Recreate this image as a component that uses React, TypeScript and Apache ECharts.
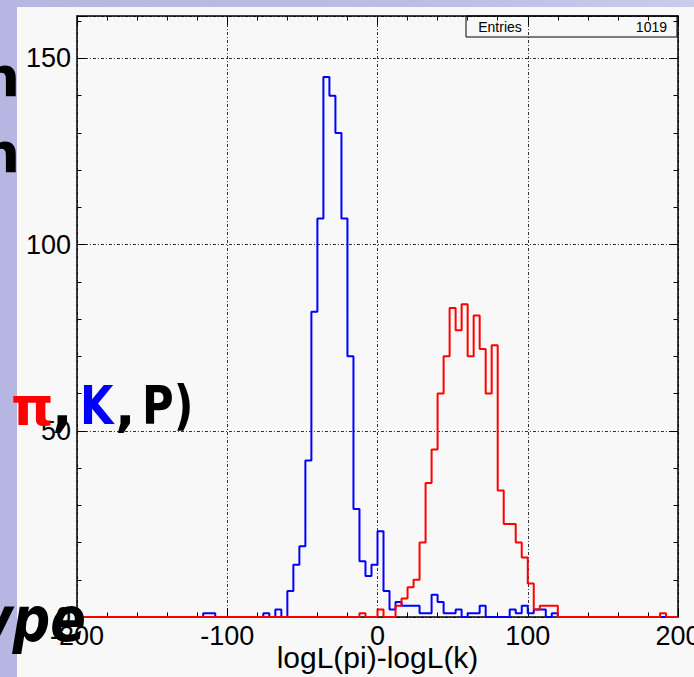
import React, { useEffect, useRef } from "react";
import * as echarts from "echarts";

// Histogram binning (ROOT TH1: 100 bins from -200 to 200)
const BIN_START = -200;
const BIN_WIDTH = 4;

// Kaon (blue) counts per bin
const kaonCounts = [
  0, 0, 0, 0, 0, 0, 0, 0, 0, 0,
  0, 0, 0, 0, 0, 0, 0, 0, 0, 0,
  0, 1, 1, 0, 0, 0, 0, 0, 0, 0,
  0, 1, 0, 2, 0, 7, 14, 19, 42, 82,
  107, 145, 140, 130, 107, 70, 29, 15, 11, 14,
  23, 7, 2, 4, 3, 3, 3, 1, 1, 6,
  4, 1, 1, 2, 0, 1, 1, 3, 0, 0,
  0, 0, 2, 1, 3, 1, 2, 2, 0, 1,
  0, 0, 0, 0, 0, 0, 0, 0, 0, 0,
  0, 0, 0, 0, 0, 0, 0, 0, 0, 0,
];

// Pion (red) counts per bin
const pionCounts = [
  0, 0, 0, 0, 0, 0, 0, 0, 0, 0,
  0, 0, 0, 0, 0, 0, 0, 0, 0, 0,
  0, 0, 0, 0, 0, 0, 0, 0, 0, 0,
  0, 0, 0, 0, 0, 0, 0, 0, 0, 0,
  0, 0, 0, 0, 0, 0, 0, 1, 0, 0,
  2, 0, 0, 3, 5, 8, 10, 20, 36, 45,
  60, 70, 83, 77, 84, 70, 81, 72, 60, 73,
  34, 25, 25, 20, 16, 9, 2, 3, 3, 3,
  0, 0, 0, 0, 0, 0, 0, 0, 0, 0,
  0, 0, 0, 0, 0, 0, 0, 1, 0, 0,
];

const X_MIN = -200;
const X_MAX = 200;
const X_MAJOR = 100;
const Y_MIN = 0;
const Y_MAX = 161.4;
const Y_MAJOR = 50;
const Y_MINOR = 10;
const X_TITLE = "logL(pi)-logL(k)";
const ENTRIES_LABEL = "Entries";
const ENTRIES_VALUE = "1019";

const FONT = "'Liberation Sans', Arial, sans-serif";
const SLIDE_FONT = "'DejaVu Sans', sans-serif";

function toSteps(counts: number[]): number[][] {
  const pts = counts.map((c, i) => [BIN_START + i * BIN_WIDTH, c]);
  pts.push([BIN_START + counts.length * BIN_WIDTH, counts[counts.length - 1]]);
  return pts;
}

const frameLine = { color: "#000", width: 1.5 };
const tickLine = { color: "#000", width: 1 };
const gridLine = { color: "#333", width: 1, type: [3, 2, 1, 2] };

function buildOption(): any {
  const xCommon = {
    type: "value",
    min: X_MIN,
    max: X_MAX,
    interval: X_MAJOR,
    axisLine: { show: true, onZero: false, lineStyle: frameLine },
    axisTick: { show: true, inside: true, length: 9, lineStyle: tickLine },
    minorTick: { show: true, splitNumber: 5, length: 4.5, lineStyle: tickLine },
    minorSplitLine: { show: false },
  };
  const yMajor = {
    type: "value",
    min: Y_MIN,
    max: Y_MAX,
    interval: Y_MAJOR,
    axisLine: { show: true, onZero: false, lineStyle: frameLine },
    axisTick: { show: true, inside: true, length: 9, lineStyle: tickLine },
    minorTick: { show: false },
  };
  const yMinor = {
    type: "value",
    min: Y_MIN,
    max: Y_MAX,
    interval: Y_MINOR,
    axisLine: { show: false, onZero: false },
    axisTick: { show: true, inside: true, length: 4.5, lineStyle: tickLine },
    axisLabel: { show: false },
    splitLine: { show: false },
  };
  return {
    animation: false,
    backgroundColor: "transparent",
    grid: {
      left: 77,
      top: 16,
      width: 601,
      height: 601,
      containLabel: false,
      outerBoundsMode: "none",
      show: false,
    },
    xAxis: [
      {
        ...xCommon,
        position: "bottom",
        axisLabel: { show: true, fontSize: 27, color: "#000", fontFamily: FONT, margin: 5 },
        splitLine: { show: true, lineStyle: gridLine },
        name: X_TITLE,
        nameLocation: "middle",
        nameGap: 25,
        nameMoveOverlap: false,
        nameTextStyle: { fontSize: 30, color: "#000", fontFamily: FONT },
      },
      {
        ...xCommon,
        position: "top",
        axisLabel: { show: false },
        splitLine: { show: false },
      },
    ],
    yAxis: [
      {
        ...yMajor,
        position: "left",
        axisLabel: {
          show: true,
          fontSize: 27,
          color: "#000",
          fontFamily: FONT,
          margin: 6,
          formatter: (v: number) => (v % Y_MAJOR === 0 ? String(v) : ""),
        },
        splitLine: { show: true, lineStyle: gridLine },
      },
      { ...yMinor, position: "left" },
      {
        ...yMajor,
        position: "right",
        axisLabel: { show: false },
        splitLine: { show: false },
      },
      { ...yMinor, position: "right" },
    ],
    series: [
      {
        type: "line",
        name: "K",
        xAxisIndex: 0,
        yAxisIndex: 0,
        data: toSteps(kaonCounts),
        step: "end",
        symbol: "none",
        showSymbol: false,
        clip: false,
        silent: true,
        lineStyle: { color: "#0000ff", width: 2 },
        itemStyle: { color: "#0000ff" },
        z: 3,
      },
      {
        type: "line",
        name: "pi",
        xAxisIndex: 0,
        yAxisIndex: 0,
        data: toSteps(pionCounts),
        step: "end",
        symbol: "none",
        showSymbol: false,
        clip: false,
        silent: true,
        lineStyle: { color: "#ff0000", width: 2 },
        itemStyle: { color: "#ff0000" },
        z: 4,
      },
    ],
    graphic: [
      // Stat box
      {
        type: "rect",
        z: 50,
        silent: true,
        shape: { x: 466, y: 16, width: 211, height: 21 },
        style: { fill: "none", stroke: "#000", lineWidth: 1 },
      },
      {
        type: "text",
        z: 51,
        x: 500,
        y: 27,
        style: { text: ENTRIES_LABEL, fontSize: 14, fontFamily: FONT, fill: "#000", align: "center", verticalAlign: "middle" },
      },
      {
        type: "text",
        z: 51,
        x: 667,
        y: 27,
        style: { text: ENTRIES_VALUE, fontSize: 14, fontFamily: FONT, fill: "#000", align: "right", verticalAlign: "middle" },
      },
      // Slide text fragments overlapping the screenshot
      {
        type: "text", z: 60, x: 20, y: 76,
        style: { text: "n", fontSize: 56, fontWeight: "bold", fontFamily: SLIDE_FONT, fill: "#000", align: "right", verticalAlign: "middle" },
      },
      {
        type: "text", z: 60, x: 20, y: 152,
        style: { text: "n", fontSize: 56, fontWeight: "bold", fontFamily: SLIDE_FONT, fill: "#000", align: "right", verticalAlign: "middle" },
      },
      {
        type: "text", z: 60, x: 11, y: 406,
        style: { text: "π", fontSize: 54, fontWeight: "bold", fontFamily: SLIDE_FONT, fill: "#ff0000", align: "left", verticalAlign: "middle" },
      },
      {
        type: "text", z: 60, x: 52, y: 406,
        style: { text: ",", fontSize: 54, fontWeight: "bold", fontFamily: SLIDE_FONT, fill: "#000", align: "left", verticalAlign: "middle" },
      },
      {
        type: "text", z: 60, x: 80, y: 406, scaleX: 0.8,
        style: { text: "K", fontSize: 54, fontWeight: "bold", fontFamily: SLIDE_FONT, fill: "#0000ff", align: "left", verticalAlign: "middle" },
      },
      {
        type: "text", z: 60, x: 115, y: 406,
        style: { text: ",", fontSize: 54, fontWeight: "bold", fontFamily: SLIDE_FONT, fill: "#000", align: "left", verticalAlign: "middle" },
      },
      {
        type: "text", z: 60, x: 142, y: 406, scaleX: 0.8,
        style: { text: "P)", fontSize: 54, fontWeight: "bold", fontFamily: SLIDE_FONT, fill: "#000", align: "left", verticalAlign: "middle" },
      },
      {
        type: "text", z: 60, x: 86, y: 620, scaleX: 0.85,
        style: { text: "ype", fontSize: 62, fontWeight: "bold", fontStyle: "italic", fontFamily: SLIDE_FONT, fill: "#000", align: "right", verticalAlign: "middle" },
      },
    ],
  };
}

export default function App() {
  const ref = useRef<HTMLDivElement>(null);
  useEffect(() => {
    if (!ref.current) return;
    const chart = echarts.init(ref.current, null, { renderer: "svg" });
    chart.setOption(buildOption());
    return () => chart.dispose();
  }, []);
  return (
    <div
      style={{
        position: "fixed",
        left: 0,
        top: 0,
        width: 694,
        height: 677,
        overflow: "hidden",
        background: "linear-gradient(90deg, #b6b6e2 0%, #bdbde5 60%, #cbcbec 100%)",
      }}
    >
      <div
        style={{
          position: "absolute",
          left: 17,
          top: 7,
          right: 0,
          bottom: 0,
          background: "#f8f8f8",
        }}
      />
      <div ref={ref} style={{ position: "absolute", left: 0, top: 0, width: 694, height: 677 }} />
    </div>
  );
}
